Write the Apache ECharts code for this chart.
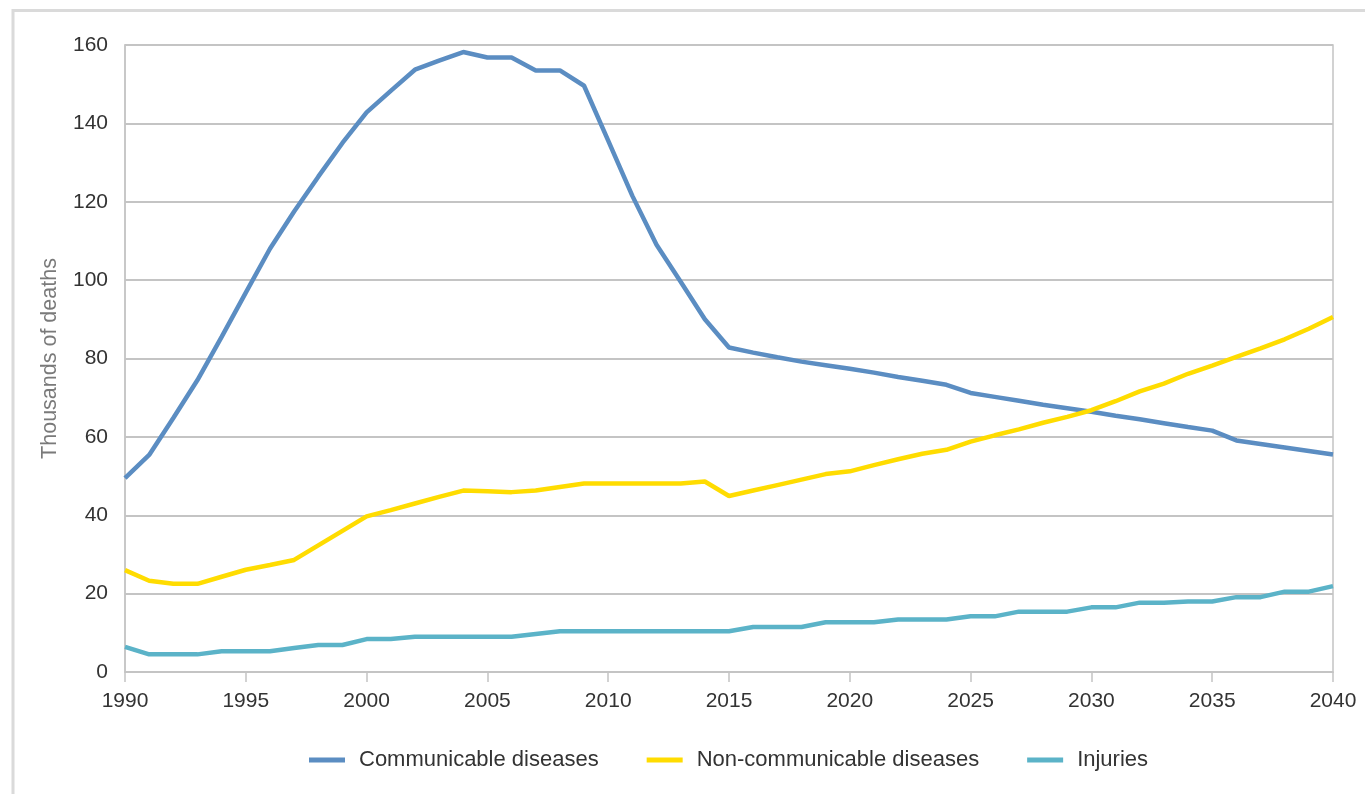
<!DOCTYPE html>
<html>
<head>
<meta charset="utf-8">
<script src="https://cdn.jsdelivr.net/npm/echarts@6/dist/echarts.min.js"></script>
<style>
  html, body { margin: 0; padding: 0; background: #ffffff; }
  #chart { width: 1365px; height: 794px; }
</style>
</head>
<body>
<div id="chart"></div>
<script>
const years = [1990,1991,1992,1993,1994,1995,1996,1997,1998,1999,
  2000,2001,2002,2003,2004,2005,2006,2007,2008,2009,
  2010,2011,2012,2013,2014,2015,2016,2017,2018,2019,
  2020,2021,2022,2023,2024,2025,2026,2027,2028,2029,
  2030,2031,2032,2033,2034,2035,2036,2037,2038,2039,2040];

const communicable = [49.5,55.4,64.8,74.5,85.5,96.8,108.0,117.5,126.4,135.0,
  142.8,148.3,153.7,156.0,158.2,156.8,156.8,153.5,153.5,149.6,
  135.6,121.5,109.0,99.6,90.0,82.8,81.5,80.3,79.2,78.3,
  77.4,76.4,75.3,74.3,73.3,71.2,70.2,69.2,68.2,67.3,
  66.4,65.4,64.5,63.5,62.5,61.6,59.1,58.2,57.3,56.4,55.5];

const nonCommunicable = [26.0,23.3,22.5,22.5,24.3,26.1,27.3,28.6,32.3,36.0,
  39.7,41.3,43.0,44.7,46.3,46.1,45.9,46.3,47.2,48.1,
  48.1,48.1,48.1,48.1,48.6,44.9,46.3,47.7,49.1,50.5,
  51.2,52.8,54.3,55.7,56.7,58.8,60.4,61.9,63.6,65.1,
  66.8,69.1,71.6,73.6,76.1,78.2,80.4,82.6,84.9,87.6,90.6];

const injuries = [6.4,4.5,4.5,4.5,5.3,5.3,5.3,6.1,6.9,6.9,
  8.4,8.4,9.0,9.0,9.0,9.0,9.0,9.7,10.4,10.4,
  10.4,10.4,10.4,10.4,10.4,10.4,11.5,11.5,11.5,12.7,
  12.7,12.7,13.4,13.4,13.4,14.2,14.2,15.4,15.4,15.4,
  16.5,16.5,17.7,17.7,18.0,18.0,19.1,19.1,20.5,20.5,21.9];

const seriesNames = ['Communicable diseases', 'Non-communicable diseases', 'Injuries'];
const yAxisTitle = 'Thousands of deaths';

const pair = arr => years.map((y, i) => [y, arr[i]]);

const chart = echarts.init(document.getElementById('chart'), null, { renderer: 'canvas' });
const FONT = '"Liberation Sans", Arial, sans-serif';

chart.setOption({
  animation: false,
  backgroundColor: '#ffffff',
  color: ['#5B8DC2', '#FFDC00', '#5BB3C8'],
  textStyle: { fontFamily: FONT },
  graphic: [{
    type: 'polyline',
    shape: { points: [[13, 794], [13, 10.5], [1365, 10.5]] },
    style: { stroke: '#dadada', lineWidth: 3, fill: null },
    silent: true
  }],
  grid: {
    left: 125, right: 32, top: 45, bottom: 122,
    show: true, borderColor: '#c4c4c4', borderWidth: 1.5,
    containLabel: false
  },
  legend: {
    left: 304, top: 744,
    icon: 'rect',
    itemWidth: 36, itemHeight: 5,
    itemGap: 48,
    textStyle: { fontSize: 22, color: '#333333', fontFamily: FONT, padding: [0, 0, 0, 9] },
    data: seriesNames
  },
  xAxis: {
    type: 'value',
    min: 1990, max: 2040, interval: 5,
    axisLine: { show: true, lineStyle: { color: '#c4c4c4', width: 1.5 } },
    axisTick: { show: true, length: 10, lineStyle: { color: '#c4c4c4', width: 1.5 } },
    splitLine: { show: false },
    axisLabel: { fontSize: 21, color: '#333333', margin: 19, fontFamily: FONT, formatter: v => String(v) }
  },
  yAxis: {
    type: 'value',
    min: 0, max: 160, interval: 20,
    name: yAxisTitle,
    nameLocation: 'middle',
    nameGap: 64,
    nameRotate: 90,
    nameTextStyle: { fontSize: 21.5, color: '#7a7a7a', fontFamily: FONT },
    axisLine: { show: true, lineStyle: { color: '#c4c4c4', width: 1.5 } },
    axisTick: { show: false },
    splitLine: { show: true, lineStyle: { color: '#c4c4c4', width: 2 } },
    axisLabel: { fontSize: 21, color: '#333333', margin: 17, fontFamily: FONT }
  },
  series: [
    { name: seriesNames[0], type: 'line', data: pair(communicable), showSymbol: false, symbol: 'none', lineStyle: { width: 4.5 } },
    { name: seriesNames[1], type: 'line', data: pair(nonCommunicable), showSymbol: false, symbol: 'none', lineStyle: { width: 4.5 } },
    { name: seriesNames[2], type: 'line', data: pair(injuries), showSymbol: false, symbol: 'none', lineStyle: { width: 4.5 } }
  ]
});
</script>
</body>
</html>
